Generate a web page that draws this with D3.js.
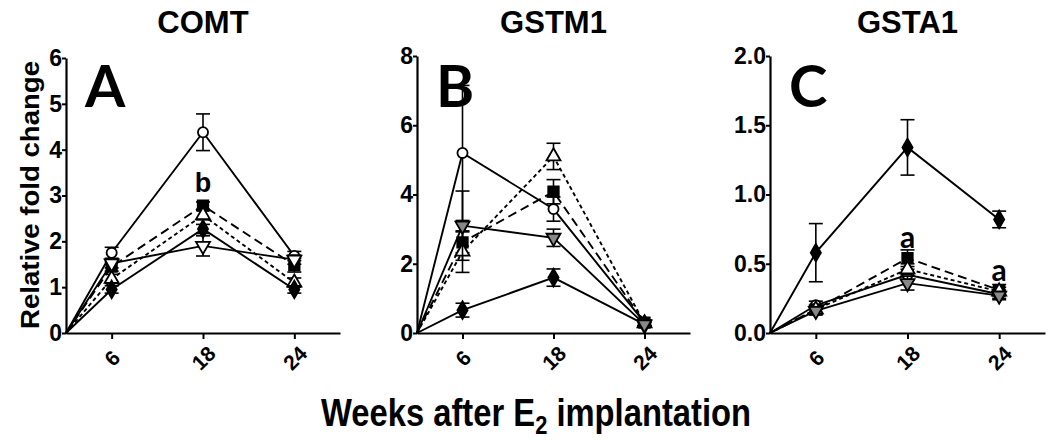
<!DOCTYPE html>
<html><head><meta charset="utf-8">
<script src="https://cdn.jsdelivr.net/npm/d3@7"></script>
<style>body{margin:0;background:#fff}svg{display:block}</style>
</head><body>
<svg id="c" width="1050" height="441"></svg>
<script>
// ---- data ----
const weeks = [0, 6, 18, 24];
const weekTicks = [6, 18, 24];
const panelTitles = ["COMT", "GSTM1", "GSTA1"];
const panelLetters = ["A", "B", "C"];
const yMax = [6, 8, 2];
const yTicksA = [0, 1, 2, 3, 4, 5, 6];
const yTicksB = [0, 2, 4, 6, 8];
const yTicksC = [0, 0.5, 1.0, 1.5, 2.0];
const seriesNames = ["circle", "square", "triangleUp", "diamond", "triangleDown"];

// COMT (A) values at weeks 0,6,18,24
const A_circle = [0, 1.75, 4.38, 1.68];
const A_square = [0, 1.45, 2.78, 1.48];
const A_triUp = [0, 1.18, 2.57, 1.1];
const A_diamond = [0, 0.95, 2.27, 0.95];
const A_triDown = [0, 1.52, 1.9, 1.6];
const A_err_circle = [0, 0.12, 0.4, 0.1];
const A_err_square = [0, 0.1, 0.08, 0.15];
const A_err_triUp = [0, 0.1, 0.1, 0.1];
const A_err_diamond = [0, 0.08, 0.1, 0.08];
const A_err_triDown = [0, 0.1, 0.22, 0.1];

// GSTM1 (B)
const B_circle = [0, 5.2, 3.58, 0.3];
const B_square = [0, 2.62, 4.08, 0.3];
const B_triUp = [0, 2.35, 5.1, 0.28];
const B_diamond = [0, 0.66, 1.6, 0.25];
const B_triDown = [0, 3.1, 2.75, 0.25];
const B_err_circle = [0, 1.95, 0.35, 0.08];
const B_err_square = [0, 0.3, 0.35, 0.08];
const B_err_triUp = [0, 0.6, 0.38, 0.08];
const B_err_diamond = [0, 0.2, 0.25, 0.05];
const B_err_triDown = [0, 1.0, 0.25, 0.05];

// GSTA1 (C)
const C_circle = [0, 0.2, 0.42, 0.28];
const C_square = [0, 0.17, 0.54, 0.31];
const C_triUp = [0, 0.17, 0.46, 0.3];
const C_diamond = [0, 0.58, 1.34, 0.82];
const C_triDown = [0, 0.16, 0.36, 0.27];
const C_err_circle = [0, 0.03, 0.04, 0.03];
const C_err_square = [0, 0.03, 0.06, 0.04];
const C_err_triUp = [0, 0.03, 0.04, 0.03];
const C_err_diamond = [0, 0.21, 0.2, 0.06];
const C_err_triDown = [0, 0.03, 0.05, 0.03];

// significance annotations
const annotLabels = ["b", "a", "a"];
const annotPanel = [0, 2, 2];
const annotWeek = [18, 18, 24];
const annotY = [3.28, 0.7, 0.46];

// ---- build ----
const panelData = [
  {vals:[A_circle,A_square,A_triUp,A_diamond,A_triDown], errs:[A_err_circle,A_err_square,A_err_triUp,A_err_diamond,A_err_triDown], ticks:yTicksA, fmt:d3.format("d")},
  {vals:[B_circle,B_square,B_triUp,B_diamond,B_triDown], errs:[B_err_circle,B_err_square,B_err_triUp,B_err_diamond,B_err_triDown], ticks:yTicksB, fmt:d3.format("d")},
  {vals:[C_circle,C_square,C_triUp,C_diamond,C_triDown], errs:[C_err_circle,C_err_square,C_err_triUp,C_err_diamond,C_err_triDown], ticks:yTicksC, fmt:d3.format(".1f")}
];
const layout = [
  {x0:66, x1:340, yTop:58},
  {x0:417, x1:690, yTop:56},
  {x0:770, x1:1045, yTop:56}
];
const yBase = 333;
const slot = d3.scaleOrdinal().domain(weeks).range([0, 1, 3, 5]);
const styles = {
  circle: {dash:null, shape:d3.symbolCircle, size:80, fill:"#fff"},
  square: {dash:"9,5", shape:d3.symbolSquare, size:110, fill:"#000"},
  triangleUp: {dash:"4,3", shape:d3.symbolTriangle, size:85, fill:"#fff"},
  diamond: {dash:null, shape:d3.symbolDiamond, size:90, fill:"#000"},
  triangleDown: {dash:null, shape:d3.symbolTriangle, size:85, fill:"#888", rot:180}
};
const downFill = ["#fff", "#888", "#888"];

const svg = d3.select("#c");
const font = "'Liberation Sans', Arial, sans-serif";

panelData.forEach((pd, p) => {
  const L = layout[p];
  const x = d3.scaleLinear().domain([0, 6]).range([L.x0, L.x1]);
  const y = d3.scaleLinear().domain([0, yMax[p]]).range([yBase, L.yTop]);
  const g = svg.append("g");

  const ya = g.append("g").attr("transform", `translate(${L.x0},0)`)
    .call(d3.axisLeft(y).tickValues(pd.ticks).tickFormat(pd.fmt).tickSize(4).tickSizeOuter(0));
  ya.select(".domain").attr("stroke-width", 2.2);
  ya.selectAll(".tick line").attr("stroke-width", 2);
  ya.selectAll(".tick text").attr("font-family", font).attr("font-weight", "bold")
    .attr("font-size", 23).attr("x", -4).attr("fill", "#000");

  const xa = g.append("g").attr("transform", `translate(0,${yBase})`)
    .call(d3.axisBottom(x).tickValues(weekTicks.map(w => slot(w))).tickFormat((d, i) => weekTicks[i]).tickSize(6).tickSizeOuter(0));
  xa.select(".domain").attr("stroke-width", 2.2);
  xa.selectAll(".tick line").attr("stroke-width", 2);
  xa.selectAll(".tick text").attr("font-family", font).attr("font-weight", "bold")
    .attr("font-size", 21).attr("fill", "#000")
    .attr("text-anchor", "middle").attr("dy", null).attr("y", null)
    .attr("dominant-baseline", "central")
    .attr("transform", "translate(0,25) rotate(-45)");

  seriesNames.forEach((name, s) => {
    const st = styles[name];
    const vals = pd.vals[s], errs = pd.errs[s];
    const pts = weeks.map((w, i) => ({x: x(slot(w)), v: vals[i], e: errs[i]}));
    const line = d3.line().x(d => d.x).y(d => y(d.v));
    g.append("path").datum(pts).attr("d", line).attr("fill", "none")
      .attr("stroke", "#000").attr("stroke-width", 1.9)
      .attr("stroke-dasharray", st.dash);
    pts.slice(1).forEach(d => {
      if (d.e <= 0) return;
      g.append("line").attr("x1", d.x).attr("x2", d.x).attr("y1", y(d.v + d.e)).attr("y2", y(d.v - d.e))
        .attr("stroke", "#000").attr("stroke-width", 1.6);
      [d.v + d.e, d.v - d.e].forEach(v => {
        g.append("line").attr("x1", d.x - 7).attr("x2", d.x + 7).attr("y1", y(v)).attr("y2", y(v))
          .attr("stroke", "#000").attr("stroke-width", 1.6);
      });
    });
    pts.slice(1).forEach(d => {
      g.append("path").attr("d", d3.symbol().type(st.shape).size(st.size)())
        .attr("transform", `translate(${d.x},${y(d.v)})` + (st.rot ? ` rotate(${st.rot})` : ""))
        .attr("fill", name === "triangleDown" ? downFill[p] : st.fill)
        .attr("stroke", "#000").attr("stroke-width", 1.8);
    });
  });

  svg.append("text").attr("x", (L.x0 + L.x1) / 2).attr("y", 33).attr("text-anchor", "middle")
    .attr("font-family", font).attr("font-weight", "bold").attr("font-size", 31).text(panelTitles[p]);
  svg.append("text").attr("x", L.x0 + 19).attr("y", 107)
    .attr("font-family", "Lato, 'Open Sans', sans-serif").attr("font-weight", "bold").attr("font-size", 58).text(panelLetters[p]);

  annotLabels.forEach((lab, i) => {
    if (annotPanel[i] !== p) return;
    svg.append("text").attr("x", x(slot(annotWeek[i]))).attr("y", y(annotY[i]))
      .attr("text-anchor", "middle").attr("dominant-baseline", "central")
      .attr("font-family", lab === "b" ? font : "Lato, sans-serif").attr("font-weight", "bold")
      .attr("font-size", lab === "b" ? 27 : 30).text(lab);
  });
});

svg.append("text").attr("transform", "translate(30,195) rotate(-90)").attr("text-anchor", "middle")
  .attr("dominant-baseline", "central")
  .attr("font-family", font).attr("font-weight", "bold").attr("font-size", 26)
  .attr("textLength", 268).attr("lengthAdjust", "spacingAndGlyphs").text("Relative fold change");

const xl = svg.append("text").attr("transform", "translate(536,426) scale(0.84,1)").attr("text-anchor", "middle")
  .attr("font-family", font).attr("font-weight", "bold").attr("font-size", 39);
xl.append("tspan").text("Weeks after E");
xl.append("tspan").attr("font-size", 26).attr("dy", 8).text("2");
xl.append("tspan").attr("dy", -8).text(" implantation");
</script>
</body></html>
